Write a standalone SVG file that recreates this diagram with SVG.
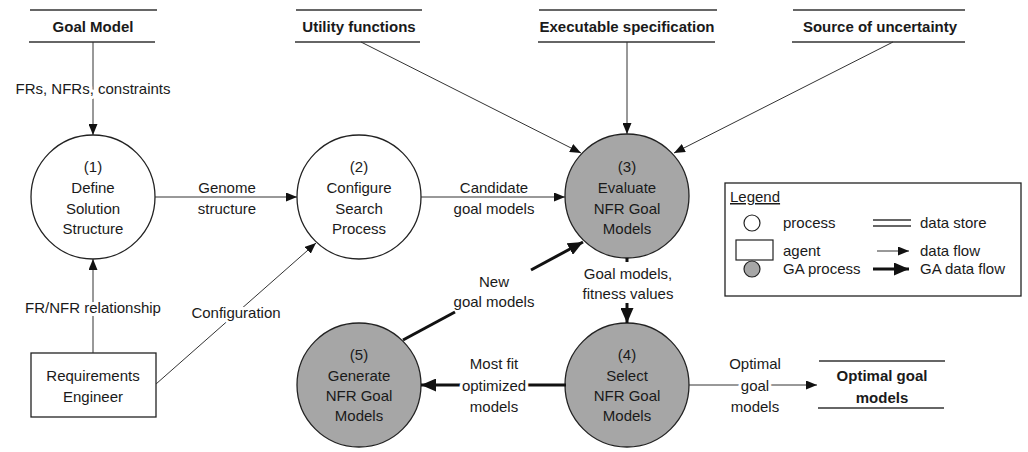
<svg xmlns="http://www.w3.org/2000/svg" width="1028" height="452" viewBox="0 0 1028 452">
<style>
text{font-family:"Liberation Sans",Arial,sans-serif;font-size:15px;fill:#1a1a1a;text-anchor:middle}
.b{font-weight:bold}
.l{text-anchor:start}
.ds{stroke:#333;stroke-width:1.6}
.proc{fill:#fff;stroke:#222;stroke-width:1.3}
.ga{fill:#a6a6a6;stroke:#222;stroke-width:1.3}
.thin{stroke:#333;stroke-width:1;fill:none}
.thick{stroke:#111;stroke-width:3;fill:none}
.lbl{paint-order:stroke;stroke:#fff;stroke-width:6;stroke-linejoin:round}
</style>
<defs>
<marker id="a" markerUnits="userSpaceOnUse" markerWidth="11" markerHeight="9" refX="11" refY="4.5" orient="auto"><path d="M0,0 L11,4.5 L0,9 z" fill="#111"/></marker>
<marker id="A" markerUnits="userSpaceOnUse" markerWidth="15" markerHeight="13" refX="15" refY="6.5" orient="auto"><path d="M0,0 L15,6.5 L0,13 z" fill="#111"/></marker>
</defs>
<rect width="1028" height="452" fill="#fff"/>

<g id="goal-model">
<line class="ds" x1="30" y1="10" x2="157" y2="10"/><line class="ds" x1="29" y1="42" x2="155" y2="42"/>
<text class="b" x="93" y="32">Goal Model</text>
</g>
<g id="utility-functions">
<line class="ds" x1="296" y1="10" x2="422" y2="10"/><line class="ds" x1="295" y1="42" x2="420" y2="42"/>
<text class="b" x="359" y="32">Utility functions</text>
</g>
<g id="executable-specification">
<line class="ds" x1="539" y1="10" x2="717" y2="10"/><line class="ds" x1="538" y1="42" x2="715" y2="42"/>
<text class="b" x="627" y="32">Executable specification</text>
</g>
<g id="source-of-uncertainty">
<line class="ds" x1="793" y1="10" x2="965" y2="10"/><line class="ds" x1="792" y1="42" x2="965" y2="42"/>
<text class="b" x="880" y="32">Source of uncertainty</text>
</g>
<g id="optimal-goal-models">
<line class="ds" x1="819" y1="361" x2="945" y2="361"/><line class="ds" x1="818" y1="408" x2="944" y2="408"/>
<text class="b" x="882" y="381">Optimal goal</text><text class="b" x="882" y="403">models</text>
</g>

<g id="p1">
<circle class="proc" cx="93" cy="197" r="62"/>
<text x="93" y="172">(1)</text><text x="93" y="193">Define</text><text x="93" y="214">Solution</text><text x="93" y="234">Structure</text>
</g>
<g id="p2">
<circle class="proc" cx="359" cy="197" r="62"/>
<text x="359" y="172">(2)</text><text x="359" y="193">Configure</text><text x="359" y="214">Search</text><text x="359" y="234">Process</text>
</g>
<g id="p3">
<circle class="ga" cx="627" cy="196" r="62"/>
<text x="627" y="172">(3)</text><text x="627" y="193">Evaluate</text><text x="627" y="214">NFR Goal</text><text x="627" y="234">Models</text>
</g>
<g id="p4">
<circle class="ga" cx="627" cy="385" r="62"/>
<text x="627" y="360">(4)</text><text x="627" y="381">Select</text><text x="627" y="401">NFR Goal</text><text x="627" y="421">Models</text>
</g>
<g id="p5">
<circle class="ga" cx="359" cy="385" r="62"/>
<text x="359" y="360">(5)</text><text x="359" y="381">Generate</text><text x="359" y="401">NFR Goal</text><text x="359" y="421">Models</text>
</g>
<g id="requirements-engineer">
<rect x="31" y="353" width="125" height="64" fill="#fff" stroke="#222" stroke-width="1.3"/>
<text x="93" y="381">Requirements</text><text x="93" y="402">Engineer</text>
</g>

<g id="connectors">
<line class="thin" x1="93" y1="42" x2="93" y2="135" marker-end="url(#a)"/>
<line class="thin" x1="361" y1="42" x2="581" y2="153" marker-end="url(#a)"/>
<line class="thin" x1="627" y1="42" x2="627" y2="134" marker-end="url(#a)"/>
<line class="thin" x1="893" y1="42" x2="674" y2="153" marker-end="url(#a)"/>
<line class="thin" x1="155" y1="197" x2="297" y2="197" marker-end="url(#a)"/>
<line class="thin" x1="421" y1="197" x2="565" y2="197" marker-end="url(#a)"/>
<line class="thin" x1="93" y1="353" x2="93" y2="259" marker-end="url(#a)"/>
<line class="thin" x1="156" y1="384" x2="316" y2="243" marker-end="url(#a)"/>
<line class="thin" x1="689" y1="385" x2="817" y2="385" marker-end="url(#a)"/>
<line class="thick" x1="403" y1="340" x2="455" y2="312"/>
<line class="thick" x1="531" y1="270" x2="583" y2="242" marker-end="url(#A)"/>
<line class="thick" x1="627" y1="258" x2="627" y2="262"/>
<line class="thick" x1="627" y1="303" x2="627" y2="323" marker-end="url(#A)"/>
<line class="thick" x1="566" y1="385" x2="421" y2="385" marker-end="url(#A)"/>
<g class="lbls">
<text class="lbl" x="93" y="94">FRs, NFRs, constraints</text>
<text class="lbl" x="227" y="193">Genome</text><text class="lbl" x="227" y="214">structure</text>
<text class="lbl" x="93" y="313">FR/NFR relationship</text>
<text class="lbl" x="236" y="318">Configuration</text>
<text class="lbl" x="494" y="193">Candidate</text><text class="lbl" x="494" y="214">goal models</text>
<text x="628" y="279">Goal models,</text><text x="628" y="299">fitness values</text>
<text x="494" y="287">New</text><text x="494" y="307">goal models</text>
<text class="lbl" x="494" y="369">Most fit</text><text class="lbl" x="494" y="391">optimized</text><text class="lbl" x="494" y="412">models</text>
<text class="lbl" x="755" y="369">Optimal</text><text class="lbl" x="755" y="391">goal</text><text class="lbl" x="755" y="412">models</text>
</g>
</g>

<g id="legend">
<rect x="725" y="183" width="296" height="113" fill="#fff" stroke="#222" stroke-width="1.3"/>
<text class="l" x="730" y="202" text-decoration="underline">Legend</text>
<circle cx="752" cy="223" r="8" fill="#fff" stroke="#222" stroke-width="1.2"/>
<text class="l" x="783" y="228">process</text>
<rect x="736" y="240" width="37" height="20" fill="#fff" stroke="#222" stroke-width="1.2"/>
<text class="l" x="783" y="256">agent</text>
<circle cx="752" cy="269" r="8" fill="#a6a6a6" stroke="#222" stroke-width="1.2"/>
<text class="l" x="783" y="274">GA process</text>
<line class="ds" x1="873" y1="220" x2="911" y2="220"/><line class="ds" x1="873" y1="226" x2="911" y2="226"/>
<text class="l" x="920" y="228">data store</text>
<line class="thin" x1="877" y1="251" x2="909" y2="251" marker-end="url(#a)"/>
<text class="l" x="920" y="256">data flow</text>
<line class="thick" x1="873" y1="269" x2="909" y2="269" marker-end="url(#A)"/>
<text class="l" x="920" y="274">GA data flow</text>
</g>
</svg>
